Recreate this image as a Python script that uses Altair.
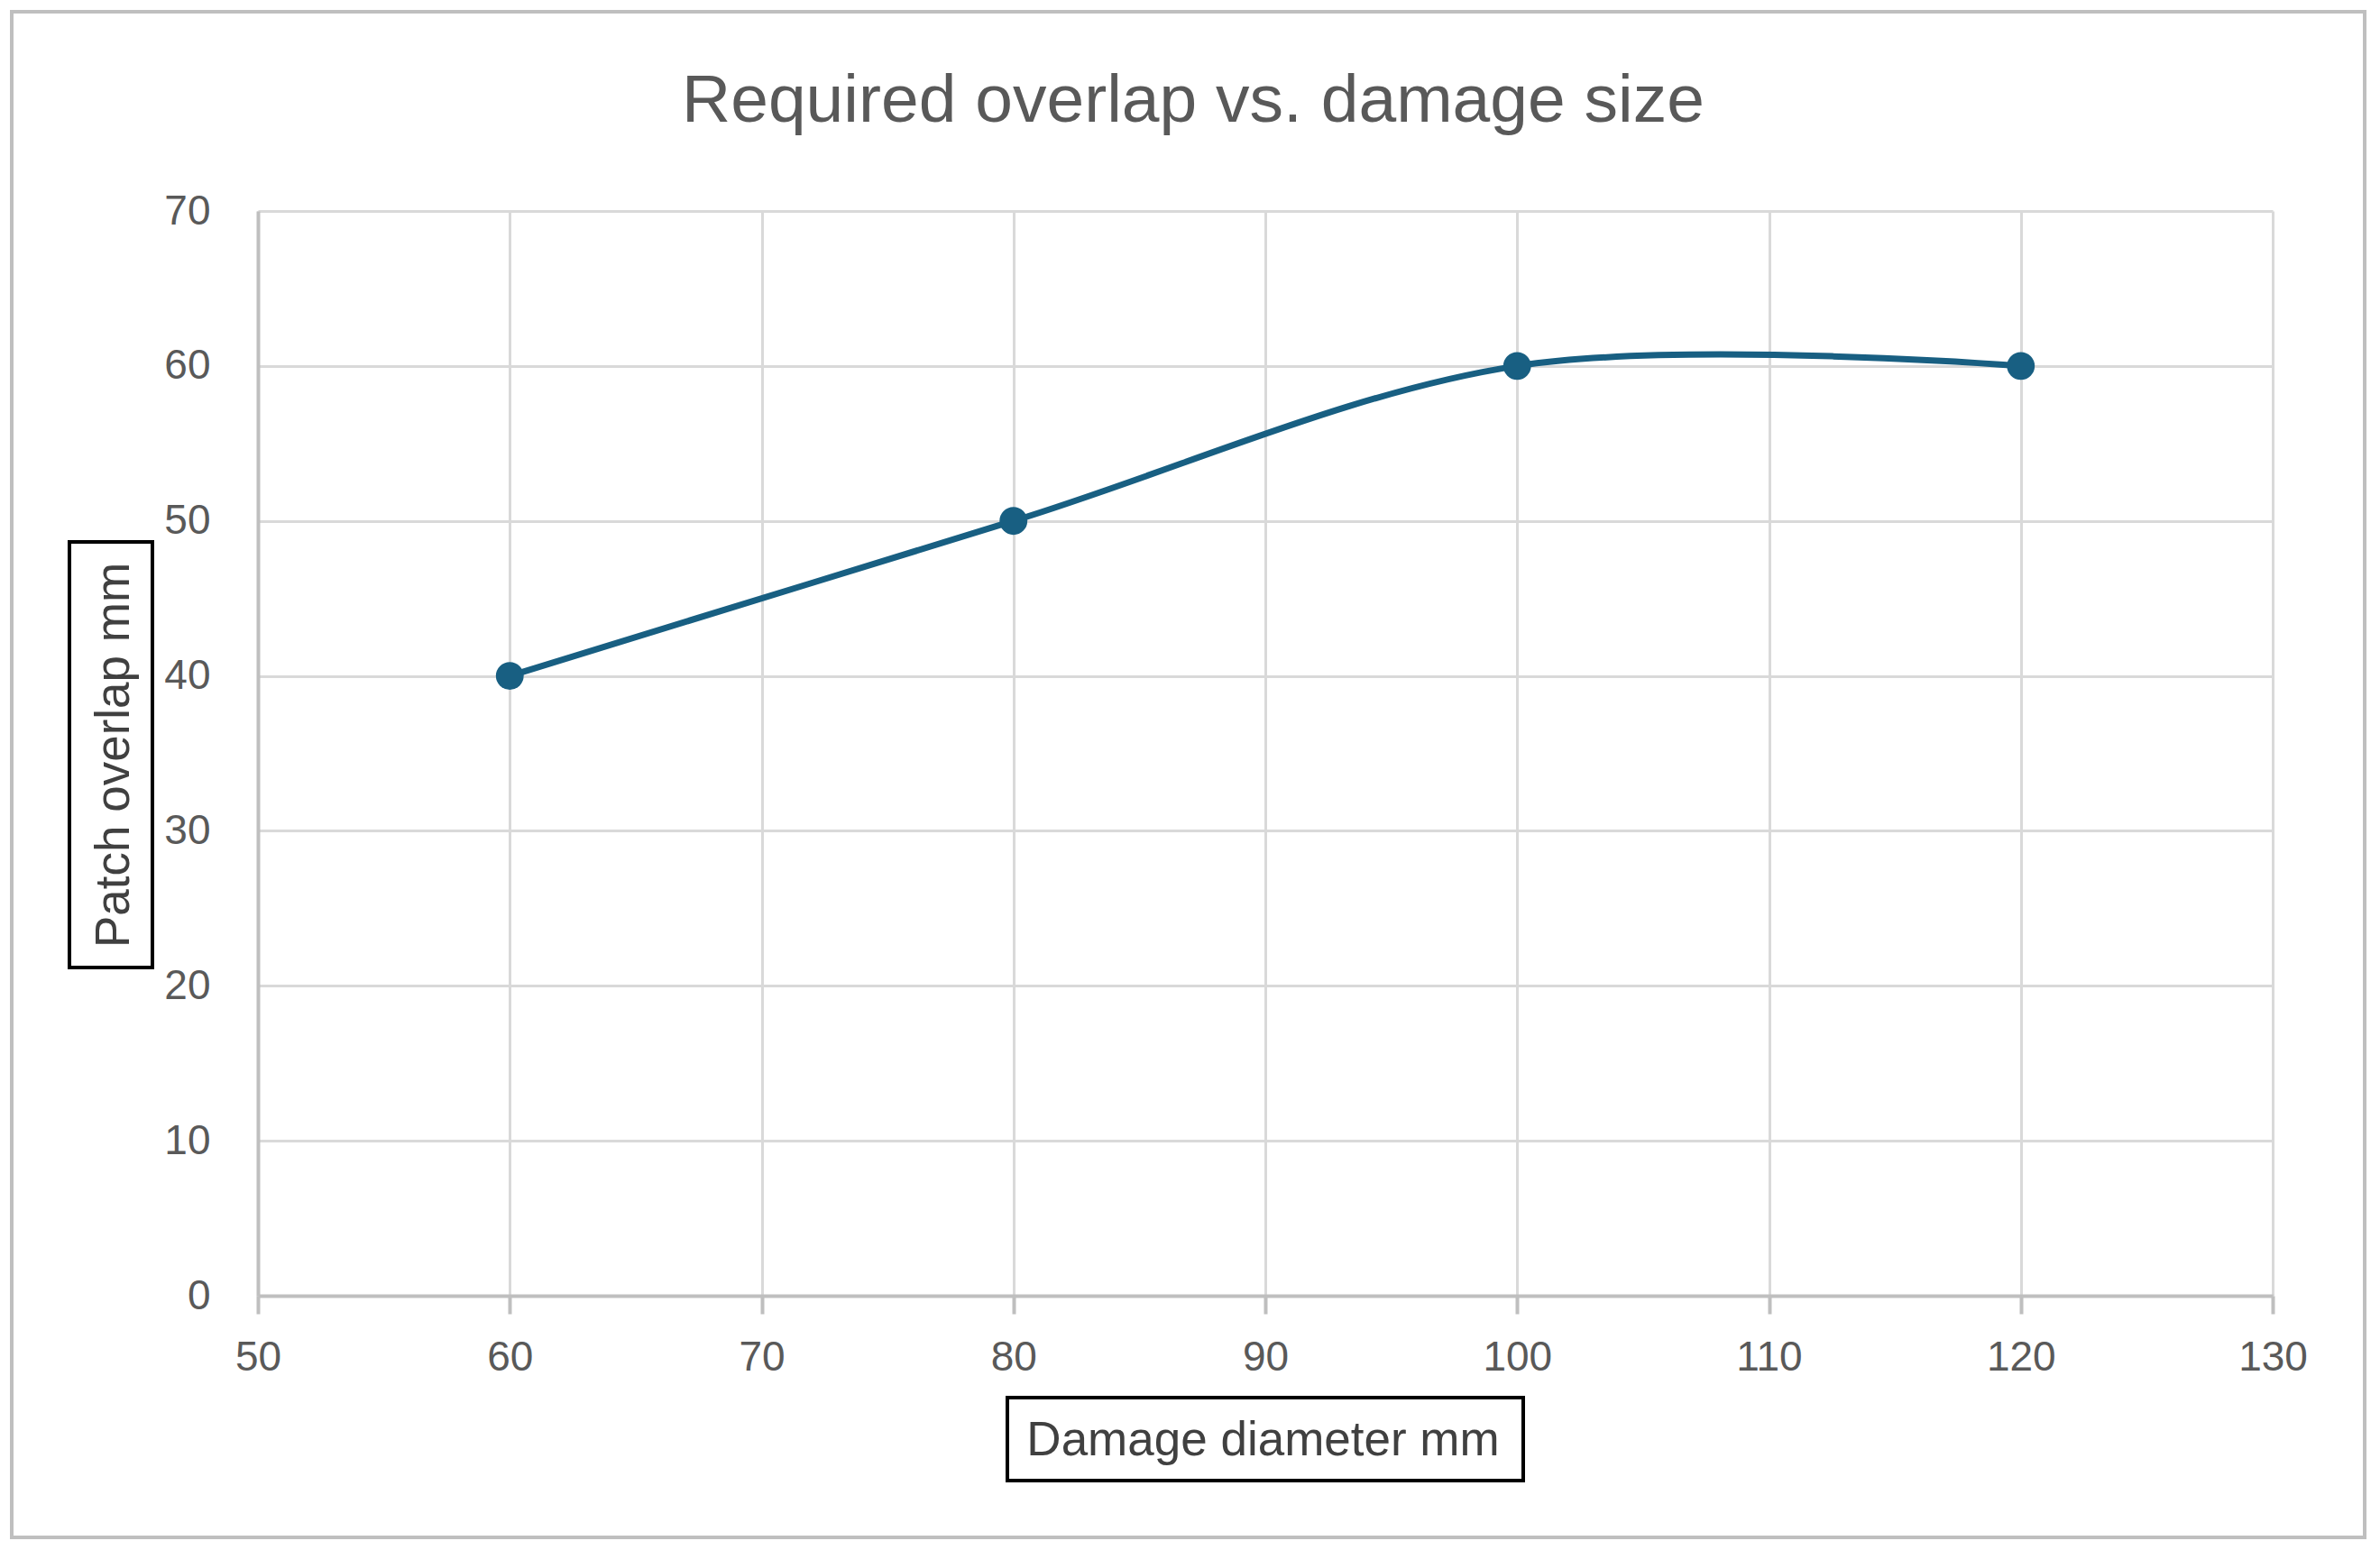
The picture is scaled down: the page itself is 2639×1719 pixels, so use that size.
import altair as alt
import pandas as pd

# Data
diameter = [60, 80, 100, 120]
overlap = [40, 50, 60, 60]
x_ticks = [50, 60, 70, 80, 90, 100, 110, 120, 130]
y_ticks = [0, 10, 20, 30, 40, 50, 60, 70]

df = pd.DataFrame({"diameter": diameter, "overlap": overlap})
one = pd.DataFrame({"k": [0]})

FONT = "Liberation Sans"
TXT = "#595959"
LINE = "#185f82"
W, H = 2234, 1203

x_enc = alt.X(
    "diameter:Q",
    scale=alt.Scale(domain=[50, 130], nice=False, zero=False),
    axis=alt.Axis(
        values=x_ticks, title="Damage diameter mm", titleX=1114, titleY=160,
        titleBaseline="middle", titleAnchor="middle", labelFlush=False,
        tickSize=20, labelPadding=26, grid=True,
    ),
)
y_enc = alt.Y(
    "overlap:Q",
    scale=alt.Scale(domain=[0, 70], nice=False),
    axis=alt.Axis(
        values=y_ticks, title="Patch overlap mm", titleX=-160, titleY=603,
        titleBaseline="middle", titleAngle=270, titleAnchor="middle",
        labelFlush=False, tickSize=0, ticks=False, labelPadding=53, grid=True,
    ),
)

line = alt.Chart(df).mark_line(
    interpolate="cardinal", color=LINE, strokeWidth=7
).encode(x=x_enc, y=y_enc)

pts = alt.Chart(df).mark_point(
    filled=True, color=LINE, size=950, opacity=1
).encode(x="diameter:Q", y="overlap:Q")

def box(x1, x2, y1, y2, color, sw):
    return alt.Chart(one).mark_rect(
        fill="transparent", stroke=color, strokeWidth=sw, clip=False
    ).encode(x=alt.value(x1), x2=alt.value(x2), y=alt.value(y1), y2=alt.value(y2))

outer = box(-273, 2336, -221, 1471, "#bfbfbf", 4)
xbox = box(831, 1403, 1316, 1408, "black", 4)
ybox = box(-209, -117, 367, 839, "black", 4)

chart = alt.layer(line, pts, outer, xbox, ybox).properties(
    width=W, height=H,
    autosize=alt.AutoSizeParams(type="none"),
    padding={"left": 278, "top": 226, "right": 105, "bottom": 270},
    title=alt.TitleParams(
        "Required overlap vs. damage size", fontSize=75, font=FONT,
        color=TXT, fontWeight="normal", anchor="middle", frame="group",
        dx=-80, offset=-140,
    ),
).configure_axis(
    labelFont=FONT, labelFontSize=46, labelColor=TXT,
    titleFont=FONT, titleFontSize=53, titleColor="#404040", titleFontWeight="normal",
    gridColor="#d9d9d9", gridWidth=3,
    domainColor="#bfbfbf", domainWidth=4,
    tickColor="#bfbfbf", tickWidth=4,
).configure_view(stroke="transparent")

chart.save("out.html", embed_options={"renderer": "svg", "actions": False})
